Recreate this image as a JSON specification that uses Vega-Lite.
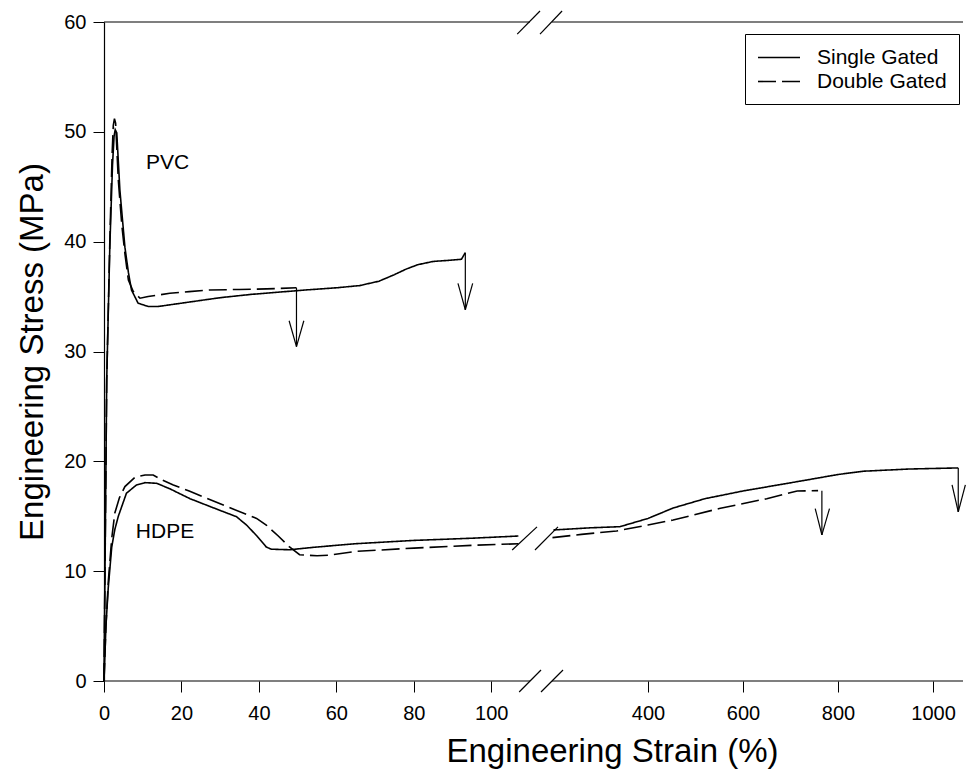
{
  "$schema": "https://vega.github.io/schema/vega-lite/v6.json",
  "width": 859,
  "height": 659,
  "autosize": {"type": "none"},
  "padding": {"left": 104, "top": 22, "right": 7, "bottom": 96},
  "background": "white",
  "config": {
    "view": {"stroke": null},
    "font": "Liberation Sans",
    "axis": {"labelFont": "Liberation Sans", "titleFont": "Liberation Sans", "labelColor": "black", "titleColor": "black", "tickColor": "black", "domainColor": "black", "grid": false, "titleFontWeight": "normal"}
  },
  "datasets": {
    "curves": [
      {"seg": "pvc_s", "series": "Single Gated", "strain": 0, "stress": 0},
      {"seg": "pvc_s", "series": "Single Gated", "strain": 0.7, "stress": 27.4},
      {"seg": "pvc_s", "series": "Single Gated", "strain": 1.5, "stress": 39.5},
      {"seg": "pvc_s", "series": "Single Gated", "strain": 2.2, "stress": 47},
      {"seg": "pvc_s", "series": "Single Gated", "strain": 2.6, "stress": 49.6},
      {"seg": "pvc_s", "series": "Single Gated", "strain": 2.9, "stress": 50.2},
      {"seg": "pvc_s", "series": "Single Gated", "strain": 3.3, "stress": 49.9},
      {"seg": "pvc_s", "series": "Single Gated", "strain": 4.1, "stress": 44.7},
      {"seg": "pvc_s", "series": "Single Gated", "strain": 5.4, "stress": 39.5},
      {"seg": "pvc_s", "series": "Single Gated", "strain": 6.3, "stress": 37.2},
      {"seg": "pvc_s", "series": "Single Gated", "strain": 7.1, "stress": 35.6},
      {"seg": "pvc_s", "series": "Single Gated", "strain": 8.8, "stress": 34.4},
      {"seg": "pvc_s", "series": "Single Gated", "strain": 11.4, "stress": 34.1},
      {"seg": "pvc_s", "series": "Single Gated", "strain": 14, "stress": 34.1},
      {"seg": "pvc_s", "series": "Single Gated", "strain": 18, "stress": 34.3},
      {"seg": "pvc_s", "series": "Single Gated", "strain": 24, "stress": 34.6},
      {"seg": "pvc_s", "series": "Single Gated", "strain": 30, "stress": 34.9},
      {"seg": "pvc_s", "series": "Single Gated", "strain": 38, "stress": 35.2},
      {"seg": "pvc_s", "series": "Single Gated", "strain": 45, "stress": 35.4},
      {"seg": "pvc_s", "series": "Single Gated", "strain": 52, "stress": 35.6},
      {"seg": "pvc_s", "series": "Single Gated", "strain": 60, "stress": 35.8},
      {"seg": "pvc_s", "series": "Single Gated", "strain": 66, "stress": 36.0},
      {"seg": "pvc_s", "series": "Single Gated", "strain": 71, "stress": 36.4},
      {"seg": "pvc_s", "series": "Single Gated", "strain": 75, "stress": 37.0},
      {"seg": "pvc_s", "series": "Single Gated", "strain": 78, "stress": 37.5},
      {"seg": "pvc_s", "series": "Single Gated", "strain": 81, "stress": 37.9},
      {"seg": "pvc_s", "series": "Single Gated", "strain": 85, "stress": 38.2},
      {"seg": "pvc_s", "series": "Single Gated", "strain": 89, "stress": 38.3},
      {"seg": "pvc_s", "series": "Single Gated", "strain": 92.3, "stress": 38.4},
      {"seg": "pvc_s", "series": "Single Gated", "strain": 93.3, "stress": 39.0},

      {"seg": "pvc_d", "series": "Double Gated", "strain": 0, "stress": 0},
      {"seg": "pvc_d", "series": "Double Gated", "strain": 0.7, "stress": 27.4},
      {"seg": "pvc_d", "series": "Double Gated", "strain": 1.5, "stress": 40},
      {"seg": "pvc_d", "series": "Double Gated", "strain": 2.1, "stress": 48},
      {"seg": "pvc_d", "series": "Double Gated", "strain": 2.4, "stress": 50.6},
      {"seg": "pvc_d", "series": "Double Gated", "strain": 2.7, "stress": 51.2},
      {"seg": "pvc_d", "series": "Double Gated", "strain": 3.0, "stress": 50.8},
      {"seg": "pvc_d", "series": "Double Gated", "strain": 3.7, "stress": 45.6},
      {"seg": "pvc_d", "series": "Double Gated", "strain": 4.6, "stress": 41.5},
      {"seg": "pvc_d", "series": "Double Gated", "strain": 5.4, "stress": 38.9},
      {"seg": "pvc_d", "series": "Double Gated", "strain": 6.3, "stress": 36.5},
      {"seg": "pvc_d", "series": "Double Gated", "strain": 7.5, "stress": 35.5},
      {"seg": "pvc_d", "series": "Double Gated", "strain": 9.3, "stress": 34.85},
      {"seg": "pvc_d", "series": "Double Gated", "strain": 11.4, "stress": 35.0},
      {"seg": "pvc_d", "series": "Double Gated", "strain": 17, "stress": 35.3},
      {"seg": "pvc_d", "series": "Double Gated", "strain": 22, "stress": 35.45},
      {"seg": "pvc_d", "series": "Double Gated", "strain": 27.3, "stress": 35.6},
      {"seg": "pvc_d", "series": "Double Gated", "strain": 35, "stress": 35.65},
      {"seg": "pvc_d", "series": "Double Gated", "strain": 42, "stress": 35.7},
      {"seg": "pvc_d", "series": "Double Gated", "strain": 49.7, "stress": 35.8},

      {"seg": "hdpe_s_a", "series": "Single Gated", "strain": 0, "stress": 0},
      {"seg": "hdpe_s_a", "series": "Single Gated", "strain": 0.5, "stress": 5},
      {"seg": "hdpe_s_a", "series": "Single Gated", "strain": 1.1, "stress": 8.5},
      {"seg": "hdpe_s_a", "series": "Single Gated", "strain": 2, "stress": 12.2},
      {"seg": "hdpe_s_a", "series": "Single Gated", "strain": 2.8, "stress": 13.8},
      {"seg": "hdpe_s_a", "series": "Single Gated", "strain": 3.7, "stress": 15.0},
      {"seg": "hdpe_s_a", "series": "Single Gated", "strain": 5.8, "stress": 17.1},
      {"seg": "hdpe_s_a", "series": "Single Gated", "strain": 8.4, "stress": 17.85},
      {"seg": "hdpe_s_a", "series": "Single Gated", "strain": 10.6, "stress": 18.06},
      {"seg": "hdpe_s_a", "series": "Single Gated", "strain": 13.6, "stress": 18.0},
      {"seg": "hdpe_s_a", "series": "Single Gated", "strain": 17, "stress": 17.5},
      {"seg": "hdpe_s_a", "series": "Single Gated", "strain": 22.2, "stress": 16.6},
      {"seg": "hdpe_s_a", "series": "Single Gated", "strain": 28, "stress": 15.8},
      {"seg": "hdpe_s_a", "series": "Single Gated", "strain": 34.2, "stress": 14.96},
      {"seg": "hdpe_s_a", "series": "Single Gated", "strain": 36.8, "stress": 14.2},
      {"seg": "hdpe_s_a", "series": "Single Gated", "strain": 39.5, "stress": 13.2},
      {"seg": "hdpe_s_a", "series": "Single Gated", "strain": 41.9, "stress": 12.2},
      {"seg": "hdpe_s_a", "series": "Single Gated", "strain": 43.2, "stress": 12.0},
      {"seg": "hdpe_s_a", "series": "Single Gated", "strain": 47.9, "stress": 11.95},
      {"seg": "hdpe_s_a", "series": "Single Gated", "strain": 55, "stress": 12.2},
      {"seg": "hdpe_s_a", "series": "Single Gated", "strain": 65, "stress": 12.5},
      {"seg": "hdpe_s_a", "series": "Single Gated", "strain": 80, "stress": 12.8},
      {"seg": "hdpe_s_a", "series": "Single Gated", "strain": 95, "stress": 13.0},
      {"seg": "hdpe_s_a", "series": "Single Gated", "strain": 107, "stress": 13.2},
      {"seg": "hdpe_s_b", "series": "Single Gated", "strain": 201, "stress": 13.75},
      {"seg": "hdpe_s_b", "series": "Single Gated", "strain": 280, "stress": 13.95},
      {"seg": "hdpe_s_b", "series": "Single Gated", "strain": 341, "stress": 14.05},
      {"seg": "hdpe_s_b", "series": "Single Gated", "strain": 400, "stress": 14.8},
      {"seg": "hdpe_s_b", "series": "Single Gated", "strain": 453, "stress": 15.75},
      {"seg": "hdpe_s_b", "series": "Single Gated", "strain": 520, "stress": 16.6},
      {"seg": "hdpe_s_b", "series": "Single Gated", "strain": 600, "stress": 17.3},
      {"seg": "hdpe_s_b", "series": "Single Gated", "strain": 714, "stress": 18.15},
      {"seg": "hdpe_s_b", "series": "Single Gated", "strain": 800, "stress": 18.8},
      {"seg": "hdpe_s_b", "series": "Single Gated", "strain": 853, "stress": 19.1},
      {"seg": "hdpe_s_b", "series": "Single Gated", "strain": 950, "stress": 19.3},
      {"seg": "hdpe_s_b", "series": "Single Gated", "strain": 1053, "stress": 19.4},

      {"seg": "hdpe_d_a", "series": "Double Gated", "strain": 0, "stress": 0},
      {"seg": "hdpe_d_a", "series": "Double Gated", "strain": 0.5, "stress": 5},
      {"seg": "hdpe_d_a", "series": "Double Gated", "strain": 1.1, "stress": 9},
      {"seg": "hdpe_d_a", "series": "Double Gated", "strain": 2, "stress": 13},
      {"seg": "hdpe_d_a", "series": "Double Gated", "strain": 2.8, "stress": 15.3},
      {"seg": "hdpe_d_a", "series": "Double Gated", "strain": 4, "stress": 16.7},
      {"seg": "hdpe_d_a", "series": "Double Gated", "strain": 5.4, "stress": 17.7},
      {"seg": "hdpe_d_a", "series": "Double Gated", "strain": 8, "stress": 18.55},
      {"seg": "hdpe_d_a", "series": "Double Gated", "strain": 10.6, "stress": 18.76},
      {"seg": "hdpe_d_a", "series": "Double Gated", "strain": 12.7, "stress": 18.76},
      {"seg": "hdpe_d_a", "series": "Double Gated", "strain": 15, "stress": 18.3},
      {"seg": "hdpe_d_a", "series": "Double Gated", "strain": 17.9, "stress": 17.85},
      {"seg": "hdpe_d_a", "series": "Double Gated", "strain": 22, "stress": 17.3},
      {"seg": "hdpe_d_a", "series": "Double Gated", "strain": 26.5, "stress": 16.64},
      {"seg": "hdpe_d_a", "series": "Double Gated", "strain": 33, "stress": 15.7},
      {"seg": "hdpe_d_a", "series": "Double Gated", "strain": 39.4, "stress": 14.8},
      {"seg": "hdpe_d_a", "series": "Double Gated", "strain": 41.9, "stress": 14.2},
      {"seg": "hdpe_d_a", "series": "Double Gated", "strain": 45, "stress": 13.2},
      {"seg": "hdpe_d_a", "series": "Double Gated", "strain": 47.9, "stress": 12.2},
      {"seg": "hdpe_d_a", "series": "Double Gated", "strain": 50.5, "stress": 11.5},
      {"seg": "hdpe_d_a", "series": "Double Gated", "strain": 55, "stress": 11.4},
      {"seg": "hdpe_d_a", "series": "Double Gated", "strain": 58, "stress": 11.45},
      {"seg": "hdpe_d_a", "series": "Double Gated", "strain": 65, "stress": 11.8},
      {"seg": "hdpe_d_a", "series": "Double Gated", "strain": 80, "stress": 12.1},
      {"seg": "hdpe_d_a", "series": "Double Gated", "strain": 95, "stress": 12.35},
      {"seg": "hdpe_d_a", "series": "Double Gated", "strain": 107, "stress": 12.5},
      {"seg": "hdpe_d_b", "series": "Double Gated", "strain": 199, "stress": 13.05},
      {"seg": "hdpe_d_b", "series": "Double Gated", "strain": 260, "stress": 13.35},
      {"seg": "hdpe_d_b", "series": "Double Gated", "strain": 334, "stress": 13.66},
      {"seg": "hdpe_d_b", "series": "Double Gated", "strain": 400, "stress": 14.2},
      {"seg": "hdpe_d_b", "series": "Double Gated", "strain": 453, "stress": 14.66},
      {"seg": "hdpe_d_b", "series": "Double Gated", "strain": 550, "stress": 15.7},
      {"seg": "hdpe_d_b", "series": "Double Gated", "strain": 650, "stress": 16.6},
      {"seg": "hdpe_d_b", "series": "Double Gated", "strain": 714, "stress": 17.3},
      {"seg": "hdpe_d_b", "series": "Double Gated", "strain": 758, "stress": 17.33}
    ],
    "segments": [
      {"part": "arrow", "strain": 49.7, "stress": 35.8, "strain2": 49.7, "stress2": 30.45},
      {"part": "arrow", "strain": 47.8, "stress": 32.8, "strain2": 49.7, "stress2": 30.45},
      {"part": "arrow", "strain": 51.6, "stress": 32.8, "strain2": 49.7, "stress2": 30.45},
      {"part": "arrow", "strain": 93.3, "stress": 39.0, "strain2": 93.3, "stress2": 33.8},
      {"part": "arrow", "strain": 91.4, "stress": 36.2, "strain2": 93.3, "stress2": 33.8},
      {"part": "arrow", "strain": 95.2, "stress": 36.2, "strain2": 93.3, "stress2": 33.8},
      {"part": "arrow", "strain": 766, "stress": 17.33, "strain2": 766, "stress2": 13.3},
      {"part": "arrow", "strain": 752, "stress": 15.7, "strain2": 766, "stress2": 13.3},
      {"part": "arrow", "strain": 782, "stress": 15.7, "strain2": 766, "stress2": 13.3},
      {"part": "arrow", "strain": 1053, "stress": 19.4, "strain2": 1053, "stress2": 15.4},
      {"part": "arrow", "strain": 1040, "stress": 17.85, "strain2": 1053, "stress2": 15.4},
      {"part": "arrow", "strain": 1068, "stress": 17.85, "strain2": 1053, "stress2": 15.4},
      {"part": "frame", "strain": 0, "stress": 0, "strain2": 110, "stress2": 0},
      {"part": "frame", "strain": 198, "stress": 0, "strain2": 1063, "stress2": 0},
      {"part": "frame", "strain": 0, "stress": 60, "strain2": 110, "stress2": 60},
      {"part": "frame", "strain": 198, "stress": 60, "strain2": 1063, "stress2": 60},
      {"part": "break", "strain": 107.2, "stress": -1.0, "strain2": 154, "stress2": 1.0},
      {"part": "break", "strain": 154, "stress": -1.0, "strain2": 221.2, "stress2": 1.0},
      {"part": "break", "strain": 106.7, "stress": 58.9, "strain2": 150, "stress2": 61.0},
      {"part": "break", "strain": 150, "stress": 58.9, "strain2": 219.2, "stress2": 61.0},
      {"part": "break", "strain": 105.4, "stress": 11.93, "strain2": 138, "stress2": 14.03},
      {"part": "break", "strain": 130, "stress": 11.93, "strain2": 210.6, "stress2": 14.03}
    ],
    "labels": [
      {"text": "PVC", "strain": 16.4, "stress": 47.2},
      {"text": "HDPE", "strain": 15.75, "stress": 13.6}
    ]
  },
  "encoding": {
    "x": {
      "field": "strain",
      "type": "quantitative",
      "scale": {"domain": [0, 110, 198, 1063], "range": [0, 426, 448, 859], "nice": false, "zero": false},
      "axis": {
        "values": [0, 20, 40, 60, 80, 100, 400, 600, 800, 1000],
        "format": "d",
        "domain": false,
        "tickSize": 11,
        "tickWidth": 1,
        "labelFontSize": 20,
        "labelPadding": 11,
        "labelFlush": false,
        "labelOverlap": false,
        "title": "Engineering Strain (%)",
        "titleFontSize": 33,
        "titlePadding": 12,
        "titleX": 508,
        "titleAlign": "center"
      }
    },
    "y": {
      "field": "stress",
      "type": "quantitative",
      "scale": {"domain": [0, 60], "nice": false, "zero": false},
      "axis": {
        "values": [0, 10, 20, 30, 40, 50, 60],
        "domain": true,
        "domainWidth": 1.2,
        "tickSize": 11,
        "tickWidth": 1,
        "labelFontSize": 20,
        "labelPadding": 7,
        "labelFlush": false,
        "title": "Engineering Stress (MPa)",
        "titleFontSize": 33,
        "titlePadding": 14
      }
    }
  },
  "layer": [
    {
      "data": {"name": "segments"},
      "mark": {"type": "rule", "color": "black", "strokeWidth": 1.2},
      "encoding": {
        "x2": {"field": "strain2"},
        "y2": {"field": "stress2"}
      }
    },
    {
      "data": {"name": "curves"},
      "mark": {"type": "line", "color": "black", "strokeWidth": 1.6},
      "encoding": {
        "detail": {"field": "seg"},
        "strokeDash": {
          "field": "series",
          "type": "nominal",
          "scale": {"domain": ["Single Gated", "Double Gated"], "range": [[1, 0], [18, 6]]},
          "legend": {
            "title": null,
            "orient": "none",
            "legendX": 641,
            "legendY": 12,
            "strokeColor": "black",
            "fillColor": "white",
            "padding": 12,
            "symbolType": "M-1,0H3",
            "symbolSize": 441,
            "symbolStrokeColor": "black",
            "symbolFillColor": "transparent",
            "symbolStrokeWidth": 1.6,
            "labelFontSize": 21,
            "labelFont": "Liberation Sans",
            "labelColor": "black",
            "labelOffset": 37,
            "rowPadding": 2
          }
        }
      }
    },
    {
      "data": {"name": "labels"},
      "mark": {"type": "text", "font": "Liberation Sans", "fontSize": 21, "color": "black", "align": "center", "baseline": "middle"},
      "encoding": {"text": {"field": "text"}}
    }
  ]
}
